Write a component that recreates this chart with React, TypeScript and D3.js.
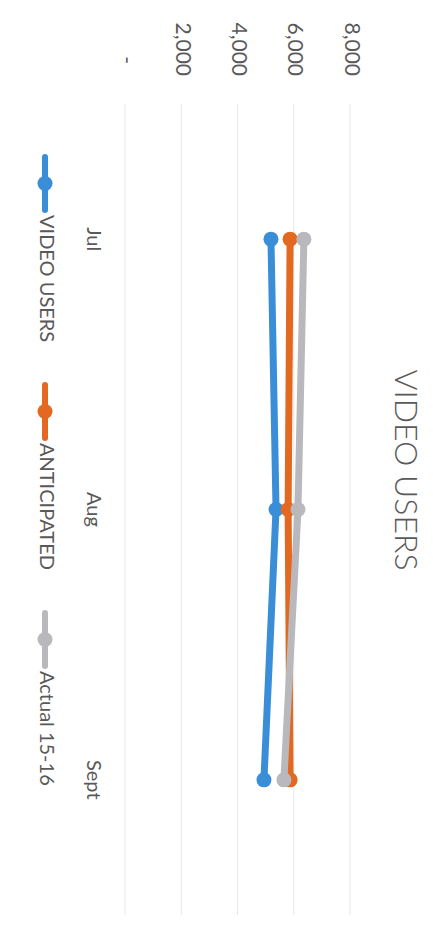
import React from "react";
import * as d3 from "d3";

const categories = ["Jul", "Aug", "Sept"];
const videoUsers = [5190, 5370, 4940];
const anticipated = [5870, 5800, 5870];
const actual = [6360, 6150, 5650];
const valueTicks = [0, 2000, 4000, 6000, 8000];

const seriesNames = ["VIDEO USERS", "ANTICIPATED", "Actual 15-16"];
const seriesColors = ["#3a8ed8", "#e2691f", "#b9b9bd"];

const W = 433;
const H = 952;

const App = () => {
  // the chart is drawn in its own frame (952 wide, 433 tall) and turned 90deg clockwise
  const x = d3.scalePoint<string>().domain(categories).range([104, 915]).padding(0.5);
  const y = d3.scaleLinear().domain([0, 8000]).range([308, 83]);

  const series = [videoUsers, anticipated, actual];
  const line = d3
    .line<number>()
    .x((d, i) => x(categories[i]) as number)
    .y((d) => y(d));

  const fmt = (v: number) => (v === 0 ? "-" : d3.format(",")(v));
  const legendStart = 157;
  const legendStep = 228;

  return (
    <svg
      width={W}
      height={H}
      style={{ position: "absolute", left: 0, top: 0, background: "#fff" }}
      fontFamily="Lato, 'Open Sans', sans-serif"
    >
      <g transform={`translate(${W},0) rotate(90)`}>
        <text
          x={470}
          y={30}
          textAnchor="middle"
          dominantBaseline="middle"
          fontSize={32}
          fontWeight={300}
          fill="#595959"
        >
          VIDEO USERS
        </text>

        {valueTicks.map((t) => (
          <g key={t}>
            <line x1={104} x2={915} y1={y(t)} y2={y(t)} stroke="#e8e8ec" strokeWidth={1} />
            <text
              x={t === 0 ? 64 : 76}
              y={y(t)}
              textAnchor="end"
              dominantBaseline="middle"
              fontSize={21}
              fill="#595959"
            >
              {fmt(t)}
            </text>
          </g>
        ))}

        {categories.map((c) => (
          <text
            key={c}
            x={x(c)}
            y={341}
            textAnchor="middle"
            dominantBaseline="middle"
            fontSize={20}
            fill="#595959"
          >
            {c}
          </text>
        ))}

        {series.map((s, si) => (
          <g key={si}>
            <path
              d={line(s) || ""}
              fill="none"
              stroke={seriesColors[si]}
              strokeWidth={7}
              strokeLinecap="round"
            />
            {s.map((v, i) => (
              <circle key={i} cx={x(categories[i])} cy={y(v)} r={7.5} fill={seriesColors[si]} />
            ))}
          </g>
        ))}

        {seriesNames.map((n, i) => {
          const u = legendStart + i * legendStep;
          return (
            <g key={n} transform={`translate(${u},388)`}>
              <line x1={0} x2={53} y1={0} y2={0} stroke={seriesColors[i]} strokeWidth={6} strokeLinecap="round" />
              <circle cx={26.5} cy={0} r={7.5} fill={seriesColors[i]} />
              <text x={58} y={0} dominantBaseline="middle" fontSize={20} fill="#595959">
                {n}
              </text>
            </g>
          );
        })}
      </g>
    </svg>
  );
};

export default App;
